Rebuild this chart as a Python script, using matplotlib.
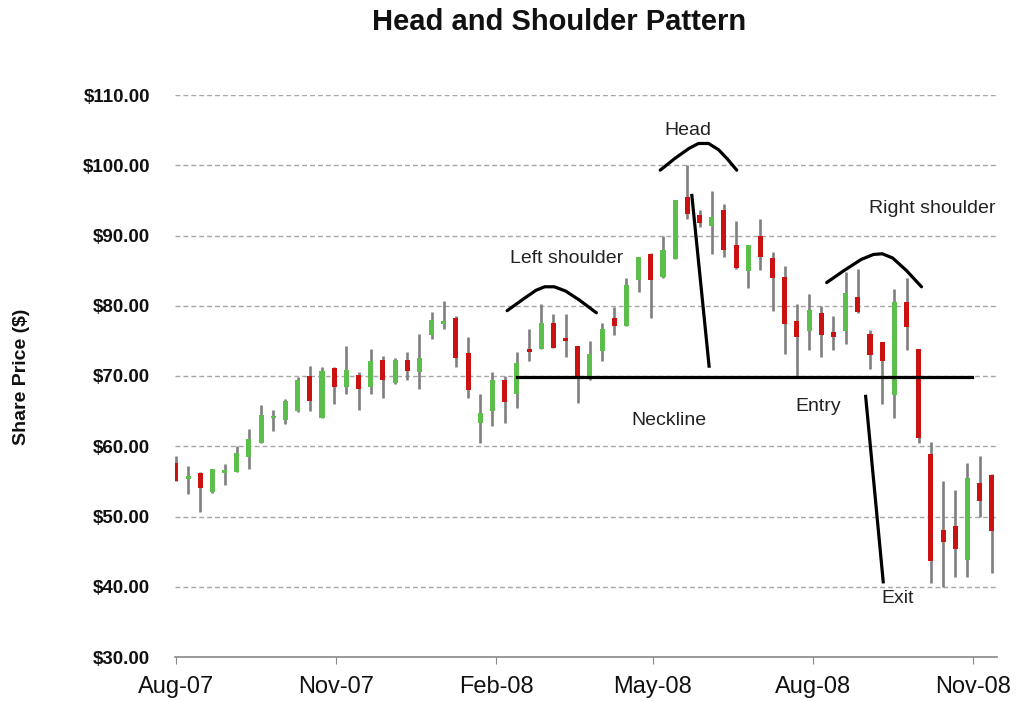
import matplotlib
matplotlib.use("Agg")
import matplotlib.pyplot as plt
import matplotlib.dates as mdates
import pandas as pd
import numpy as np
from datetime import datetime

plt.rcParams['font.family'] = ['Liberation Sans', 'DejaVu Sans']

# Weekly candles starting 1 Aug 2007
weeks = pd.date_range('2007-08-01', periods=68, freq='7D')
opens = [57.6, 55.3, 56.2, 53.5, 56.2, 56.4, 58.4, 60.5, 64.0, 63.8,
         65.0, 70.0, 64.0, 71.2, 68.4, 70.2, 68.4, 72.3, 69.0, 72.3,
         70.6, 75.8, 77.4, 78.2, 73.3, 63.3, 65.0, 69.4, 67.4, 73.8,
         73.8, 77.5, 75.4, 74.3, 69.8, 73.5, 78.2, 77.1, 83.6, 87.4,
         84.1, 86.7, 95.5, 92.9, 91.4, 93.6, 88.7, 85.0, 89.9, 86.8,
         84.1, 77.9, 76.4, 79.0, 76.3, 76.4, 81.3, 76.0, 74.8, 67.3,
         80.5, 73.8, 58.9, 48.1, 48.6, 43.8, 54.8, 55.9]
highs = [58.6, 57.2, 56.4, 56.8, 57.5, 60.0, 62.4, 65.9, 65.2, 66.7,
         69.8, 71.4, 71.3, 71.3, 74.3, 70.6, 73.8, 72.9, 72.5, 73.4,
         76.0, 79.1, 80.7, 78.6, 75.5, 67.4, 70.5, 70.0, 73.4, 76.7,
         80.3, 78.8, 78.8, 74.3, 75.0, 77.5, 79.8, 84.0, 86.9, 87.5,
         90.0, 95.0, 100.0, 93.6, 96.4, 94.5, 92.0, 88.6, 92.4, 87.6,
         85.7, 80.3, 81.7, 79.9, 78.6, 84.8, 85.2, 76.5, 74.9, 82.4,
         84.0, 73.8, 60.6, 55.1, 53.8, 57.6, 58.6, 56.0]
lows = [55.0, 53.2, 50.6, 53.3, 54.5, 56.4, 56.7, 60.5, 62.1, 63.1,
        64.9, 65.0, 64.0, 66.0, 67.4, 65.2, 67.5, 66.9, 68.8, 69.4,
        68.2, 75.2, 76.7, 71.3, 66.9, 60.5, 62.9, 63.3, 65.4, 72.1,
        73.8, 74.0, 72.7, 66.2, 69.5, 72.1, 75.9, 77.1, 81.9, 78.3,
        84.0, 86.7, 92.4, 91.2, 87.3, 87.0, 85.2, 82.5, 85.1, 79.3,
        73.1, 69.8, 73.7, 72.7, 73.7, 74.6, 78.9, 71.0, 66.0, 64.0,
        73.7, 60.5, 40.6, 39.9, 41.4, 41.4, 50.0, 42.0]
closes = [55.0, 55.7, 54.0, 56.8, 56.6, 59.0, 61.0, 64.5, 64.3, 66.5,
          69.4, 66.5, 70.7, 68.4, 70.8, 68.2, 72.1, 69.5, 72.3, 70.7,
          72.6, 77.95, 77.8, 72.5, 68.0, 64.8, 69.4, 66.3, 71.8, 73.4,
          77.5, 74.0, 75.0, 69.9, 73.2, 76.7, 77.1, 82.9, 86.9, 83.6,
          88.0, 95.0, 93.1, 91.8, 92.7, 88.0, 85.4, 88.6, 87.0, 84.0,
          77.4, 75.5, 79.4, 75.9, 75.5, 81.8, 79.05, 73.0, 72.2, 80.5,
          77.0, 61.2, 43.6, 46.3, 45.4, 55.5, 52.2, 47.9]

y_ticks = [30, 40, 50, 60, 70, 80, 90, 100, 110]
x_tick_dates = ['2007-08-01', '2007-11-01', '2008-02-01', '2008-05-01',
                '2008-08-01', '2008-11-01']

# Annotation shapes: x in days after 1 Aug 2007, y in $
left_sh_x = [190.4, 200.0, 207.0, 212.0, 217.5, 224.0, 232.0, 241.7]
left_sh_y = [79.3, 81.0, 82.2, 82.7, 82.7, 82.1, 80.8, 79.0]
head_x = [278.4, 287.0, 295.0, 300.4, 306.2, 312.0, 317.0, 322.4]
head_y = [99.3, 101.0, 102.4, 103.1, 103.1, 102.2, 100.9, 99.3]
right_sh_x = [374.1, 384.0, 394.0, 401.0, 406.0, 412.0, 420.0, 428.6]
right_sh_y = [83.3, 85.0, 86.6, 87.3, 87.4, 86.8, 85.0, 82.7]
head_line_x = [296.6, 306.5]
head_line_y = [95.7, 71.4]
exit_line_x = [396.5, 406.6]
exit_line_y = [67.1, 40.7]
neck_x = [196.2, 457.5]
neck_y = [69.8, 69.8]
labels = ['Head', 'Left shoulder', 'Right shoulder', 'Neckline', 'Entry', 'Exit']
label_x = [294.5, 224.5, 434.6, 283.6, 369.1, 415.0]
label_y = [105.0, 86.7, 93.9, 63.6, 65.7, 38.3]

start = mdates.date2num(datetime(2007, 8, 1))

fig = plt.figure(figsize=(10.17, 7.01), dpi=100)
ax = fig.add_axes([175/1017, 1-657/701, (997-175)/1017, (657-95)/701])

x = mdates.date2num(weeks.to_pydatetime())
o = np.array(opens); h = np.array(highs); l = np.array(lows); c = np.array(closes)
up = c >= o
wick_color = '#7f7f7f'
ax.vlines(x, l, h, color=wick_color, lw=1.9, zorder=3)
body_bottom = np.minimum(o, c)
body_h = np.maximum(np.abs(c - o), 0.35)
ax.bar(x[up], body_h[up], bottom=body_bottom[up], width=2.9,
       color='#5cbf4c', zorder=4, linewidth=0)
ax.bar(x[~up], body_h[~up], bottom=body_bottom[~up], width=2.9,
       color='#cc1111', zorder=4, linewidth=0)

# annotations
lw_ann = 2.3
ax.plot(start + np.array(left_sh_x), left_sh_y, color='black', lw=lw_ann, zorder=5, solid_capstyle='round')
ax.plot(start + np.array(head_x), head_y, color='black', lw=lw_ann, zorder=5, solid_capstyle='round')
ax.plot(start + np.array(right_sh_x), right_sh_y, color='black', lw=lw_ann, zorder=5, solid_capstyle='round')
ax.plot(start + np.array(head_line_x), head_line_y, color='black', lw=lw_ann, zorder=5)
ax.plot(start + np.array(exit_line_x), exit_line_y, color='black', lw=lw_ann, zorder=5)
ax.plot(start + np.array(neck_x), neck_y, color='black', lw=lw_ann, zorder=5)
for t, tx, ty in zip(labels, label_x, label_y):
    ax.text(start + tx, ty, t, ha='center', va='center', fontsize=14,
            color='#222222', zorder=6)

ax.set_ylim(30, 110)
ax.set_xlim(start - 0.5, mdates.date2num(datetime(2008, 11, 15)))
ax.set_yticks(y_ticks)
ax.set_yticklabels(['$%.2f' % v for v in y_ticks], fontsize=13.5, fontweight='bold')
ax.set_xticks([mdates.date2num(datetime.strptime(d, '%Y-%m-%d')) for d in x_tick_dates])
ax.xaxis.set_major_formatter(mdates.DateFormatter('%b-%y'))
for lab in ax.get_xticklabels():
    lab.set_fontsize(17)
ax.tick_params(axis='y', length=0, pad=18, labelcolor='#111111')
ax.tick_params(axis='x', length=5, color='#888888', pad=9, labelcolor='#111111')
for s in ['left', 'right', 'top']:
    ax.spines[s].set_visible(False)
ax.spines['bottom'].set_color('#888888')
ax.spines['bottom'].set_linewidth(1.2)
ax.yaxis.grid(True, color='#a6a6a6', linestyle=(0, (3.5, 2.2)), lw=1.0)
ax.set_axisbelow(True)
# hide the $30 gridline behind spine
ax.get_ygridlines()[0].set_visible(False)

fig.text(559/1017, 1-22/701, 'Head and Shoulder Pattern', ha='center', va='center',
         fontsize=21, fontweight='bold', color='#111111')
fig.text(22/1017, 1-377/701, 'Share Price ($)', ha='center', va='center',
         rotation=90, fontsize=14, fontweight='bold', color='#111111')

fig.savefig('out.png', dpi=100)
